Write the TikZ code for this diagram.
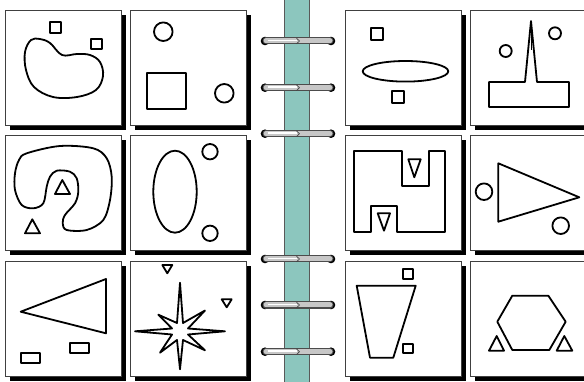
\documentclass[tikz,border=0pt]{standalone}
\definecolor{spine}{RGB}{140,198,190}
\begin{document}
\begin{tikzpicture}[x=1pt,y=-1pt,
  shp/.style={line width=1.8pt,line join=round,draw=black},
  panelbox/.style={fill=white,draw=black!75,line width=0.9pt},
  shadowbox/.style={fill=black}]
\useasboundingbox (0,0) rectangle (584,382);
\clip (0,0) rectangle (584,382);
\fill[white] (0,0) rectangle (584,382);
% panels
\foreach \px in {5,130,345,470}{
  \foreach \py in {10,135,261}{
    \fill[shadowbox] (\px+5,\py+5) rectangle (\px+121,\py+120);
    \draw[panelbox] (\px,\py) rectangle (\px+116,\py+115);
  }
}
% spine
\fill[spine] (284.5,-2) rectangle (309,384);
\draw[black!65,line width=0.8pt] (284.5,-2) -- (284.5,384) (309,-2) -- (309,384);
% rings
\foreach \ry in {41,87.7,133.7,259,305,351.7}{
  \fill[black] (265,\ry) circle (4.3);
  \fill[black] (331,\ry) circle (4.3);
  \draw[line width=7pt,line cap=round,black!70] (266,\ry) -- (330,\ry);
  \draw[line width=5pt,line cap=round,black!22] (266,\ry) -- (330,\ry);
  \draw[line width=1.6pt,white] (268,\ry-0.6) -- (297,\ry-0.6);
  \draw[black!75,line width=0.6pt] (296.5,\ry-2.8) -- (299.5,\ry) -- (296.5,\ry+2.8);
}
% ---- panel 1
\draw[shp] (50,22) rectangle (61,33);
\draw[shp] (91,39) rectangle (102,49);
\draw[shp] plot[smooth cycle,tension=0.6] coordinates {(25,52) (26,70) (34,87) (53,97) (77,97) (96,90) (103,76) (100,62) (90,55) (77,54) (62,55) (50,43) (40,39) (31,40)};
% ---- panel 2
\draw[shp] (163.3,31.7) circle (9.3);
\draw[shp] (147,73) rectangle (186,109);
\draw[shp] (224.3,93.3) circle (9.3);
% ---- panel 3
\draw[shp] (371,28) rectangle (383,40);
\draw[shp] (405.5,71.3) ellipse (42.8 and 10.3);
\draw[shp] (392,91) rectangle (404,103);
% ---- panel 4
\draw[shp] (505.7,51) circle (6);
\draw[shp] (555,33.3) circle (6);
\draw[shp] (489,82) -- (525,82) -- (531,21) -- (537,82) -- (569,82) -- (569,107) -- (489,107) -- cycle;
\draw[line width=1pt] (531,24) -- (531,50);
% ---- panel 5
\draw[shp] plot[smooth cycle,tension=0.55] coordinates {(26.7,153.3) (60,146) (93.3,148.3) (106.7,158.3) (111.7,176.7) (110,200) (103.3,220) (86.7,230) (66.7,230) (62.7,223.3) (65,215) (75,203.3) (78.3,191.7) (76.7,178.3) (70,171.7) (56.7,170.7) (50,176.7) (46.7,186.7) (43.3,203.3) (33.3,208.3) (21.7,205) (15,190) (15,173.3) (19,160)};
\draw[shp] (55,194) -- (70,194) -- (62.3,180) -- cycle;
\draw[shp] (25,233.3) -- (40,233.3) -- (32.3,219.3) -- cycle;
% ---- panel 6
\draw[shp] (175,191.7) ellipse (21.7 and 41);
\draw[shp] (210,151.7) circle (7.7);
\draw[shp] (210,233.3) circle (7.7);
% ---- panel 7
\draw[shp] (354.3,151) -- (401.7,151) -- (401.7,185.7) -- (429.3,185.7) -- (429.3,151) -- (445,151) -- (445,231.7) -- (396.7,231.7) -- (396.7,205.7) -- (370.7,205.7) -- (370.7,231.7) -- (354.3,231.7) -- cycle;
\draw[shp] (408.3,159.3) -- (420.7,159.3) -- (414.3,177.3) -- cycle;
\draw[shp] (377.7,213.3) -- (390,213.3) -- (384,230.7) -- cycle;
% ---- panel 8
\draw[shp] (498.3,163.3) -- (579.3,197.3) -- (498.3,221.7) -- cycle;
\draw[shp] (484,191.7) circle (8.3);
\draw[shp] (560.7,225.7) circle (8.3);
% ---- panel 9
\draw[shp] (20.7,311.7) -- (106,279) -- (106,333.3) -- cycle;
\draw[shp] (20.7,352.7) rectangle (40,362.7);
\draw[shp] (70,343.3) rectangle (89,353.3);
% ---- panel 10
\draw[shp] (180,282.7) -- (183,323) -- (205,310.5) -- (188,328.5) -- (225,331.3) -- (188,334.5) -- (205,350.3) -- (183,340) -- (180,369.3) -- (177,340) -- (160,352.7) -- (172,334.5) -- (135,331.3) -- (172,328.5) -- (158.3,314.7) -- (177,323) -- cycle;
\draw[shp] (162.3,265) -- (172.3,265) -- (167.3,273.3) -- cycle;
\draw[shp] (221.7,299.3) -- (231.7,299.3) -- (226.7,307.3) -- cycle;
% ---- panel 11
\draw[shp] (356.7,285.7) -- (415.7,285.7) -- (393.3,357.7) -- (370,357.7) -- cycle;
\draw[shp] (403.3,269.3) rectangle (413.3,279.3);
\draw[shp] (403.3,344.3) rectangle (413.3,353.3);
% ---- panel 12
\draw[shp] (512.3,295.7) -- (548.3,295.7) -- (565.7,321.7) -- (549.3,350) -- (512.3,350) -- (497.3,321.7) -- cycle;
\draw[shp] (489,350.7) -- (504,350.7) -- (496.7,336) -- cycle;
\draw[shp] (556.7,350.7) -- (572.3,350.7) -- (564.3,336) -- cycle;
\end{tikzpicture}
\end{document}
